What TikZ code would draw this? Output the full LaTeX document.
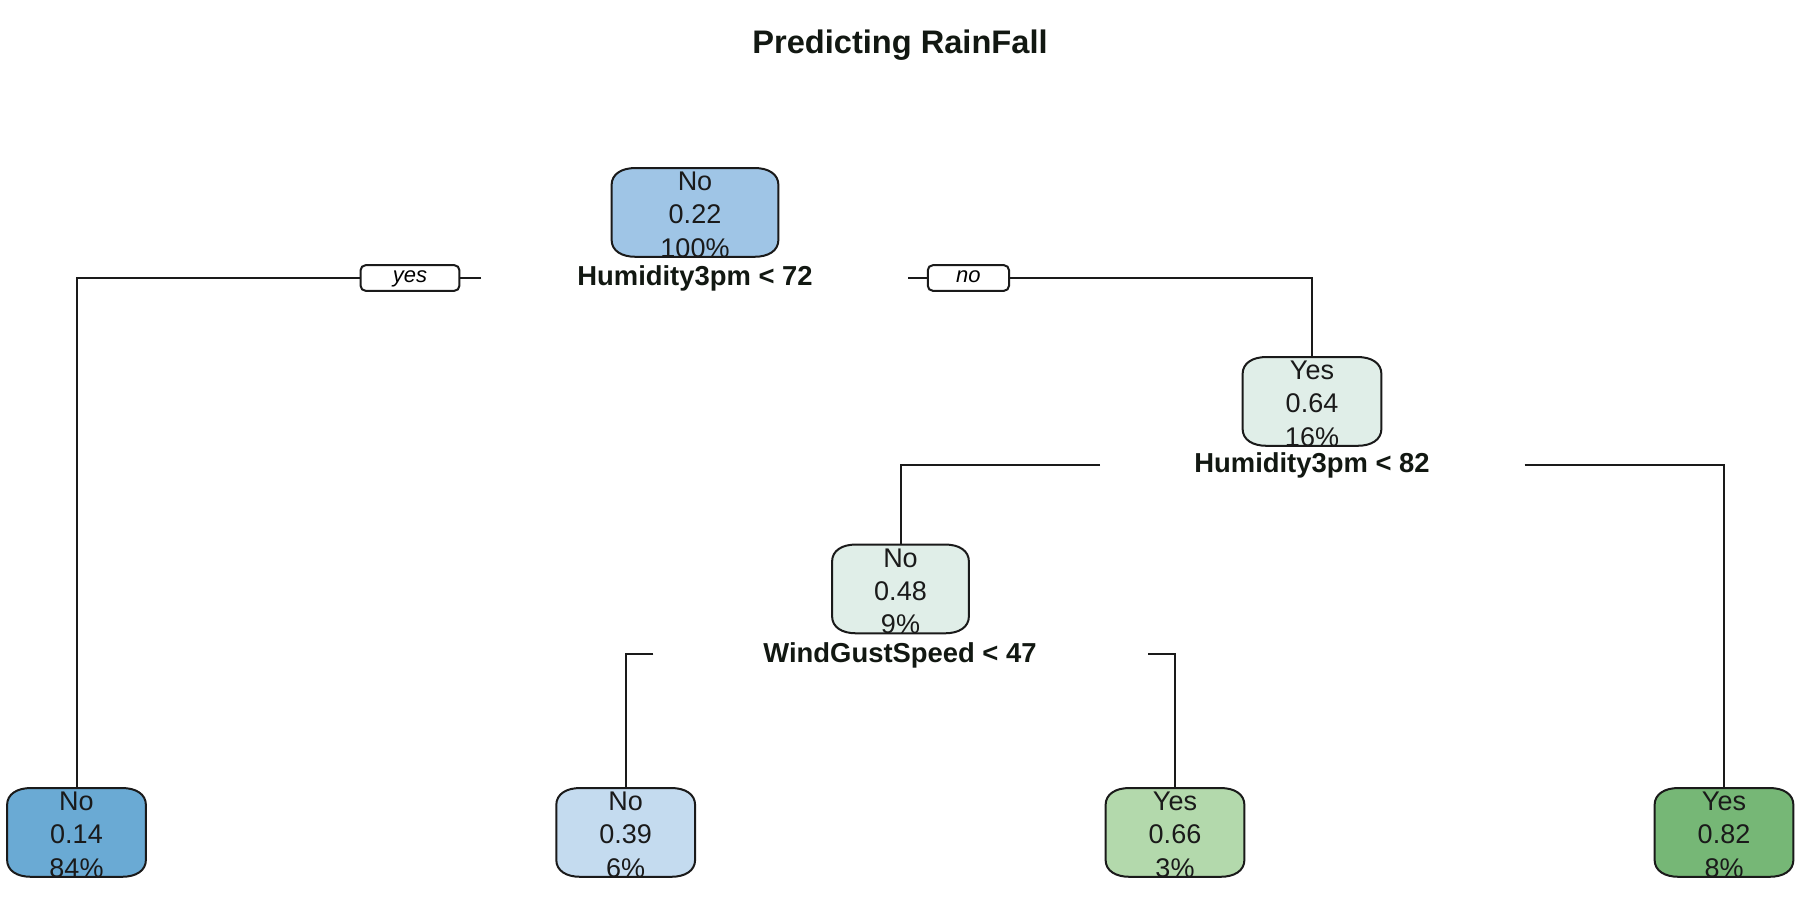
\documentclass[tikz,border=0pt]{standalone}
\usepackage{fontspec}
\setmainfont{Liberation Sans}
\usetikzlibrary{calc}
\definecolor{edgec}{HTML}{1A1A1A}
\definecolor{titlec}{HTML}{121812}
\definecolor{rootc}{HTML}{9FC5E6}
\definecolor{cA}{HTML}{6AAAD4}
\definecolor{cB}{HTML}{C4DBEF}
\definecolor{cC}{HTML}{E0EEE8}
\definecolor{cD}{HTML}{B3D9AC}
\definecolor{cE}{HTML}{76B776}
\tikzset{
  edge/.style={draw=edgec, line width=1pt},
  boxline/.style={draw=edgec, line width=1pt},
  boxframe/.style={draw=none, inner sep=0pt, minimum height=44pt, shape=rectangle},
  boxtext/.style={anchor=base, inner sep=0pt, text=edgec, font=\fontsize{13.5}{15}\selectfont},
  splitlab/.style={anchor=base, inner sep=0pt, text=titlec, font=\fontsize{13.7}{16}\selectfont\bfseries},
  yesno/.style={draw=edgec, line width=1pt, fill=white, rounded corners=2.5pt, inner sep=0pt,
     text height=6.2pt, text depth=1.6pt,
     minimum width=49.4pt, minimum height=12.8pt, font=\fontsize{11}{13}\selectfont\itshape},
}
\newcommand{\rbpath}[1]{($(#1.north west)+(0,17)$) .. controls ($(#1.north west)+(0,6)$) and ($(#1.north west)+(10,0)$) .. ($(#1.north west)+(24,0)$) -- ($(#1.north east)+(-24,0)$) .. controls ($(#1.north east)+(-10,0)$) and ($(#1.north east)+(0,6)$) .. ($(#1.north east)+(0,17)$) -- ($(#1.south east)+(0,-17)$) .. controls ($(#1.south east)+(0,-6)$) and ($(#1.south east)+(-10,0)$) .. ($(#1.south east)+(-24,0)$) -- ($(#1.south west)+(24,0)$) .. controls ($(#1.south west)+(10,0)$) and ($(#1.south west)+(0,-6)$) .. ($(#1.south west)+(0,-17)$) -- cycle}
\newcommand{\tbox}[8]{%
  \node[boxframe, minimum width={#4*0.5pt}, anchor=north] (#1) at (#2,#3) {};
  \fill[fill=#5] \rbpath{#1};
  \begin{scope}
    \clip \rbpath{#1};
    \node[boxtext] (#1-a) at ($(#1.north)+(0,22.5)$) {#6};
    \node[boxtext] (#1-b) at ($(#1.north)+(0,55.8)$) {#7};
    \node[boxtext] (#1-c) at ($(#1.north)+(0,89)$) {#8};
  \end{scope}
  \draw[boxline] \rbpath{#1};
}
\begin{document}
\begin{tikzpicture}[x=0.5pt, y=-0.5pt]
\useasboundingbox[fill=white] (0,0) rectangle (1800,901);

% title
\node[anchor=base, inner sep=0pt, text=titlec, font=\fontsize{16.3}{19}\selectfont\bfseries] (title) at (900,53.3) {Predicting RainFall};

% boxes
\tbox{n1}{695}{168}{166}{rootc}{No}{0.22}{100\%}
\tbox{n3}{1312}{357}{138}{cC}{Yes}{0.64}{16\%}
\tbox{n6}{900.5}{544.5}{136}{cC}{No}{0.48}{9\%}
\tbox{n2}{76.5}{788}{138}{cA}{No}{0.14}{84\%}
\tbox{n12}{625.7}{788}{138}{cB}{No}{0.39}{6\%}
\tbox{n13}{1175}{788}{138}{cD}{Yes}{0.66}{3\%}
\tbox{n7}{1724}{788}{138}{cE}{Yes}{0.82}{8\%}

% split labels
\node[splitlab] (l1) at (695,285) {Humidity3pm < 72};
\node[splitlab] (l3) at (1312,472.5) {Humidity3pm < 82};
\node[splitlab] (l6) at (900,662) {WindGustSpeed < 47};

% connectors
\coordinate (c1) at (481,278);
\coordinate (c2) at (908,278);
\coordinate (c3) at (1100,465);
\coordinate (c4) at (1524.5,465);
\coordinate (c5) at (653.3,654);
\coordinate (c6) at (1148,654);
\node[yesno] (yes) at (410,278) {yes};
\node[yesno, minimum width=40.6pt] (no) at (968.4,278) {no};
\draw[edge] (c1) -- (yes.east);
\draw[edge] (yes.west) -| (n2.north);
\draw[edge] (c2) -- (no.west);
\draw[edge] (no.east) -| (n3.north);
\draw[edge] (c3) -| (n6.north);
\draw[edge] (c4) -| (n7.north);
\draw[edge] (c5) -| (n12.north);
\draw[edge] (c6) -| (n13.north);
\end{tikzpicture}
\end{document}
